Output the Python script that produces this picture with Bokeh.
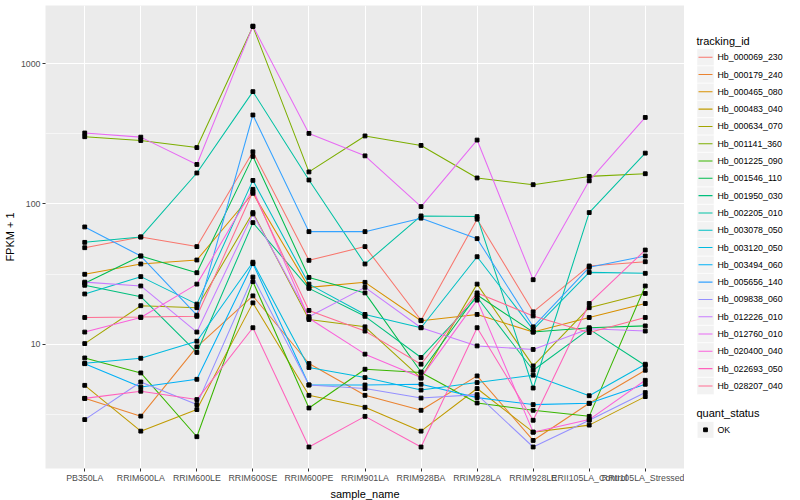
from bokeh.plotting import figure
from bokeh.models import FactorRange, Range1d, FixedTicker, NumeralTickFormatter
from bokeh.layouts import row
from bokeh.embed import file_html
from bokeh.resources import INLINE
from bokeh.core.properties import value

samples = ["PB350LA", "RRIM600LA", "RRIM600LE", "RRIM600SE", "RRIM600PE", "RRIM901LA",
           "RRIM928BA", "RRIM928LA", "RRIM928LE", "RRII105LA_Control", "RRII105LA_Stressed"]

tracking_ids = ["Hb_000069_230", "Hb_000179_240", "Hb_000465_080", "Hb_000483_040",
                "Hb_000634_070", "Hb_001141_360", "Hb_001225_090", "Hb_001546_110",
                "Hb_001950_030", "Hb_002205_010", "Hb_003078_050", "Hb_003120_050",
                "Hb_003494_060", "Hb_005656_140", "Hb_009838_060", "Hb_012226_010",
                "Hb_012760_010", "Hb_020400_040", "Hb_022693_050", "Hb_028207_040"]

# FPKM + 1 per sample (same order as samples)
hb_000069_230 = [48.7, 58.1, 49.6, 235, 39.6, 49.6, 14.8, 77.8, 17.0, 36.1, 38.7]
hb_000179_240 = [4.11, 3.07, 9.57, 22.1, 7.28, 4.32, 3.38, 5.94, 2.06, 3.79, 6.52]
hb_000465_080 = [31.5, 37.3, 39.8, 119, 25.4, 27.6, 14.7, 16.3, 12.2, 15.5, 19.5]
hb_000483_040 = [5.09, 2.40, 3.42, 19.7, 4.32, 3.55, 2.40, 4.83, 2.36, 2.65, 4.23]
hb_000634_070 = [10.1, 18.8, 18.2, 86.7, 15.0, 13.3, 5.72, 26.8, 7.0, 18.2, 23.0]
hb_001141_360 = [301, 283, 252, 1837, 169, 305, 261, 153, 137, 157, 164]
hb_001225_090 = [7.98, 6.24, 2.19, 27.9, 3.51, 6.63, 6.28, 3.81, 3.38, 3.06, 26.0]
hb_001546_110 = [27.2, 42.5, 32.3, 218, 29.9, 23.2, 6.34, 22.4, 12.2, 13.1, 13.5]
hb_001950_030 = [26.3, 21.8, 8.73, 73.5, 25.0, 15.8, 8.04, 21.6, 6.52, 12.8, 7.05]
hb_002205_010 = [53.2, 58.1, 166, 631, 148, 37.3, 82.1, 81.2, 4.87, 86.7, 230]
hb_003078_050 = [22.8, 30.3, 19.3, 147, 26.8, 16.3, 13.1, 42.0, 12.7, 32.5, 32.0]
hb_003120_050 = [7.31, 7.94, 10.5, 38.4, 6.82, 5.78, 4.71, 5.33, 6.01, 4.29, 7.2]
hb_003494_060 = [7.26, 4.95, 5.62, 37.5, 5.12, 5.12, 5.18, 4.16, 3.71, 3.79, 5.18]
hb_005656_140 = [68.5, 42.5, 16.1, 430, 63.4, 63.4, 79.1, 56.5, 13.3, 35.3, 42.5]
hb_009838_060 = [2.90, 5.38, 3.71, 30.1, 5.12, 4.83, 4.13, 4.37, 1.85, 2.87, 4.52]
hb_012226_010 = [27.7, 26.0, 12.2, 84.8, 15.7, 25.4, 13.1, 9.72, 9.17, 12.9, 12.4]
hb_012760_010 = [320, 299, 191, 1850, 318, 220, 95.7, 285, 28.8, 146, 413]
hb_020400_040 = [12.2, 15.5, 26.8, 127, 15.3, 8.49, 5.78, 20.6, 2.36, 2.90, 5.53]
hb_022693_050 = [4.11, 4.62, 4.03, 13.1, 1.85, 3.06, 1.85, 13.1, 2.87, 19.5, 46.9]
hb_028207_040 = [15.5, 15.6, 15.8, 122, 17.4, 12.4, 7.2, 23.2, 15.9, 12.1, 15.5]

series = [hb_000069_230, hb_000179_240, hb_000465_080, hb_000483_040, hb_000634_070,
          hb_001141_360, hb_001225_090, hb_001546_110, hb_001950_030, hb_002205_010,
          hb_003078_050, hb_003120_050, hb_003494_060, hb_005656_140, hb_009838_060,
          hb_012226_010, hb_012760_010, hb_020400_040, hb_022693_050, hb_028207_040]

quant_status = ["OK"]

y_ticks = [10, 100, 1000]
y_minor = [10 ** 0.5, 10 ** 1.5, 10 ** 2.5]

palette = ["#F8766D", "#EA8331", "#D89000", "#C09B00", "#A3A500", "#7CAE00", "#39B600",
           "#00BB4E", "#00BF7D", "#00C1A3", "#00BFC4", "#00BAE0", "#00B0F6", "#35A2FF",
           "#9590FF", "#C77CFF", "#E76BF3", "#FA62DB", "#FF62BC", "#FF6C91"]

FONT = "Liberation Sans"
FRAME_H = 463

p = figure(frame_width=639, frame_height=FRAME_H,
           x_range=FactorRange(factors=samples, range_padding=0.2, range_padding_units="absolute"),
           y_axis_type="log", y_range=Range1d(1.30, 2594),
           output_backend="svg", toolbar_location=None,
           min_border_top=5, min_border_right=0, min_border_left=45, min_border_bottom=32)

p.background_fill_color = "#EBEBEB"
p.border_fill_color = "white"
p.outline_line_color = None

ticker = FixedTicker(ticks=y_ticks, minor_ticks=y_minor)
p.yaxis.ticker = ticker
p.ygrid.ticker = ticker
p.yaxis.formatter = NumeralTickFormatter(format="0")
p.ygrid.grid_line_color = "white"
p.ygrid.grid_line_width = 1.1
p.ygrid.minor_grid_line_color = "white"
p.ygrid.minor_grid_line_width = 0.55
p.xgrid.grid_line_color = "white"
p.xgrid.grid_line_width = 1.1

for ax in (p.xaxis[0], p.yaxis[0]):
    ax.axis_line_color = None
    ax.major_tick_line_color = "#333333"
    ax.major_tick_out = 3
    ax.major_tick_in = 0
    ax.minor_tick_line_color = None
    ax.major_label_text_color = "#4D4D4D"
    ax.major_label_text_font_size = "8.8px"
    ax.major_label_text_font = FONT
    ax.major_label_standoff = 1
    ax.axis_label_text_font = FONT
    ax.axis_label_text_font_size = "11px"
    ax.axis_label_text_font_style = "normal"
    ax.axis_label_text_color = "black"
    ax.axis_label_standoff = 2

p.xaxis.axis_label = "sample_name"
p.yaxis.axis_label = "FPKM + 1"

for vals, col in zip(series, palette):
    p.line(x=samples, y=vals, line_color=col, line_width=1.05)
for vals in series:
    p.scatter(x=samples, y=vals, marker="square", size=3.8, color="black")

# legend panel (coordinates = page pixels)
lg = figure(frame_width=116, frame_height=FRAME_H,
            x_range=Range1d(684, 800), y_range=Range1d(5 + FRAME_H, 5),
            output_backend="svg", toolbar_location=None,
            x_axis_location=None, y_axis_location=None,
            min_border_top=5, min_border_bottom=32, min_border_left=0, min_border_right=0)
lg.grid.visible = False
lg.outline_line_color = None
lg.background_fill_color = "white"
lg.border_fill_color = "white"

n = len(tracking_ids)
ys = [56.7 + 17.3 * i for i in range(n)]
lg.text(x=[696], y=[40.7], text=["tracking_id"], text_font=value(FONT), text_font_size="11px",
        text_baseline="middle", text_color="black")
lg.rect(x=[705] * n, y=ys, width=17, height=17, fill_color="#F2F2F2", line_color="white", line_width=0.5)
lg.segment(x0=[698] * n, x1=[712] * n, y0=ys, y1=ys, line_color=palette, line_width=1.05)
lg.text(x=[717] * n, y=ys, text=tracking_ids, text_font=value(FONT), text_font_size="8.8px",
        text_baseline="middle", text_color="black")

lg.text(x=[696], y=[412.3], text=["quant_status"], text_font=value(FONT), text_font_size="11px",
        text_baseline="middle", text_color="black")
lg.rect(x=[705], y=[429.3], width=17, height=17, fill_color="#F2F2F2", line_color="white")
lg.scatter(x=[705], y=[429.3], marker="square", size=3.8, color="black")
lg.text(x=[717], y=[429.3], text=quant_status, text_font=value(FONT), text_font_size="8.8px",
        text_baseline="middle", text_color="black")

layout = row(p, lg)
open("out.html", "w").write(file_html(layout, INLINE))
